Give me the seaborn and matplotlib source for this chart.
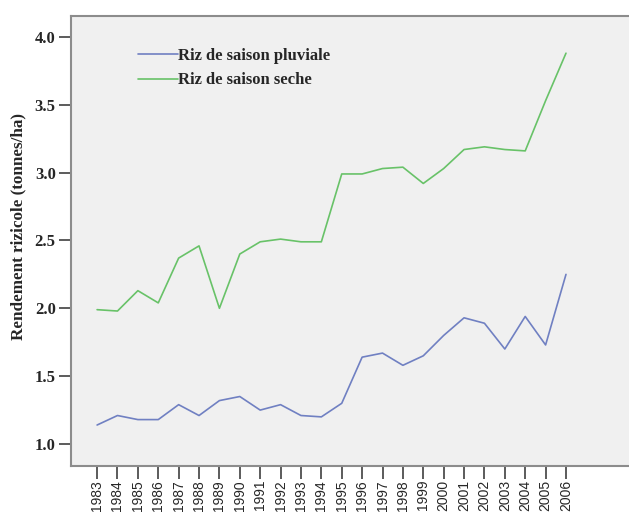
import pandas as pd
import matplotlib
matplotlib.use("Agg")
import matplotlib.pyplot as plt
import seaborn as sns

years = list(range(1983, 2007))
pluviale = [1.14, 1.21, 1.18, 1.18, 1.29, 1.21, 1.32, 1.35, 1.25, 1.29, 1.21, 1.20,
            1.30, 1.64, 1.67, 1.58, 1.65, 1.80, 1.93, 1.89, 1.70, 1.94, 1.73, 2.25]
seche = [1.99, 1.98, 2.13, 2.04, 2.37, 2.46, 2.00, 2.40, 2.49, 2.51, 2.49, 2.49,
         2.99, 2.99, 3.03, 3.04, 2.92, 3.03, 3.17, 3.19, 3.17, 3.16, 3.53, 3.88]
series_names = ["Riz de saison pluviale", "Riz de saison seche"]
ytick_vals = [1.0, 1.5, 2.0, 2.5, 3.0, 3.5, 4.0]

df = pd.DataFrame({
    "annee": years * 2,
    "rendement": pluviale + seche,
    "serie": [series_names[0]] * len(years) + [series_names[1]] * len(years),
})

sns.set_style("ticks")
plt.rcParams['font.family'] = ['Liberation Serif', 'DejaVu Serif']

W, H = 629, 513
fig = plt.figure(figsize=(W / 100, H / 100), dpi=100)
ax = fig.add_axes([71 / W, (H - 466) / H, (645 - 71) / W, (466 - 16) / H])
ax.set_facecolor('#f0f0f0')

sns.lineplot(data=df, x="annee", y="rendement", hue="serie", ax=ax,
             palette=['#7080c2', '#68c268'], linewidth=1.2, legend=True)

ax.set_xlim(1981.72, 1983 + (645 - 97) / 20.39)
ax.set_ylim(0.838, 4.154)
ax.set_xticks(years)
ax.set_xticklabels([str(y) for y in years], rotation=90, family='Liberation Sans',
                   fontsize=10)
ax.set_yticks(ytick_vals)
ax.set_yticklabels([f"{v:.1f}" for v in ytick_vals], fontsize=12, fontweight='bold')
ax.tick_params(axis='both', length=9, width=1.2, color='#404040', direction='out', pad=2)
ax.tick_params(axis='x', pad=1)

for s in ax.spines.values():
    s.set_color('#8c8c8c')
    s.set_linewidth(1.5)

ax.set_xlabel("")
ax.set_ylabel("Rendement rizicole (tonnes/ha)", fontsize=12.3, fontweight='bold')
ax.yaxis.set_label_coords(-0.077, 0.533)

leg = ax.legend(loc='upper left', bbox_to_anchor=(0.09, 0.962), frameon=False,
                handlelength=2.4, handletextpad=0.0, labelspacing=0.5,
                prop={'family': 'Liberation Serif', 'weight': 'bold', 'size': 12})

fig.savefig("out.png", dpi=100)
